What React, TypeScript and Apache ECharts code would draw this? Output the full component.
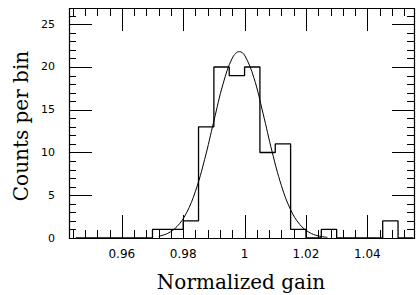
import React, { useEffect, useRef } from "react";
import * as echarts from "echarts";

// Histogram bins (lower edges) and counts
const binLowerEdges = [
  0.945, 0.95, 0.955, 0.96, 0.965, 0.97, 0.975, 0.98, 0.985, 0.99, 0.995,
  1.0, 1.005, 1.01, 1.015, 1.02, 1.025, 1.03, 1.035, 1.04, 1.045, 1.05,
];
const binCounts = [
  0, 0, 0, 0, 0, 1, 1, 2, 13, 20, 19, 20, 10, 11, 1, 0, 1, 0, 0, 0, 2, 0,
];
const binWidth = 0.005;

// Fitted curve, points
const fitX = [
  0.972, 0.975, 0.978, 0.981, 0.984, 0.987, 0.99, 0.993, 0.996, 0.9983, 1.0,
  1.003, 1.006, 1.009, 1.012, 1.015, 1.018, 1.021, 1.024, 1.027,
];
const fitY = [
  0.2, 0.55, 1.34, 2.88, 5.47, 9.2, 13.68, 18.03, 21.03, 21.8, 21.38, 18.78,
  14.6, 10.05, 6.13, 3.31, 1.58, 0.67, 0.25, 0.08,
];

// Tick labels
const xTickLabels = [0.96, 0.98, 1, 1.02, 1.04];
const yTickLabels = [0, 5, 10, 15, 20, 25];
const xTitle = "Normalized gain";
const yTitle = "Counts per bin";

const X_MIN = 0.9428;
const X_MAX = 1.0552;
const Y_MIN = 0;
const Y_MAX = 26.9;
const X_MINOR_STEP = 0.004;
const Y_MINOR_STEP = 1;

function minorValues(min: number, max: number, step: number): number[] {
  const out: number[] = [];
  const start = Math.ceil(min / step - 1e-9);
  const end = Math.floor(max / step + 1e-9);
  for (let k = start; k <= end; k++) out.push(+(k * step).toFixed(6));
  return out;
}

export default function App() {
  const ref = useRef<HTMLDivElement>(null);

  useEffect(() => {
    if (!ref.current) return;
    const chart = echarts.init(ref.current, null, { renderer: "svg" });

    const histData: [number, number][] = binLowerEdges.map((e, i) => [
      e,
      binCounts[i],
    ]);
    histData.push([
      binLowerEdges[binLowerEdges.length - 1] + binWidth,
      binCounts[binCounts.length - 1],
    ]);
    const fitData = fitX.map((x, i) => [x, fitY[i]]);

    const xMinor = minorValues(X_MIN, X_MAX, X_MINOR_STEP);
    const yMinor = minorValues(Y_MIN, Y_MAX, Y_MINOR_STEP);

    // tick items: [x, y, side(0 bottom,1 top,2 left,3 right,4 frame), length]
    const tickItems: number[][] = [[X_MIN, Y_MAX, 4, 0]];
    xTickLabels.forEach((v) => {
      tickItems.push([v, Y_MIN, 0, 23]);
      tickItems.push([v, Y_MAX, 1, 23]);
    });
    xMinor.forEach((v) => {
      tickItems.push([v, Y_MIN, 0, 8]);
      tickItems.push([v, Y_MAX, 1, 8]);
    });
    yTickLabels.forEach((v) => {
      tickItems.push([X_MIN, v, 2, 23]);
      tickItems.push([X_MAX, v, 3, 22]);
    });
    yMinor.forEach((v) => {
      tickItems.push([X_MIN, v, 2, 7]);
      tickItems.push([X_MAX, v, 3, 7]);
    });

    chart.setOption({
      animation: false,
      grid: { left: 69, top: 8, width: 345, height: 230, show: false },
      graphic: [
        {
          type: "text",
          x: 241,
          y: 282,
          style: {
            text: xTitle,
            fontFamily: "DejaVu Serif",
            fontSize: 20,
            fill: "#000",
            align: "center",
            verticalAlign: "middle",
          },
        },
        {
          type: "text",
          x: 21,
          y: 126,
          rotation: Math.PI / 2,
          style: {
            text: yTitle,
            fontFamily: "DejaVu Serif",
            fontSize: 20,
            fill: "#000",
            align: "center",
            verticalAlign: "middle",
          },
        },
      ],
      xAxis: {
        type: "value",
        min: X_MIN,
        max: X_MAX,
        axisLine: { show: false, onZero: false },
        splitLine: { show: false },
        axisTick: { show: false },
        axisLabel: {
          margin: 10,
          fontFamily: "DejaVu Sans",
          fontSize: 12,
          color: "#000",
          customValues: xTickLabels,
          formatter: (v: number) => String(+v.toFixed(2)),
        },
      },
      yAxis: {
        type: "value",
        min: Y_MIN,
        max: Y_MAX,
        axisLine: { show: false, onZero: false },
        splitLine: { show: false },
        axisTick: { show: false },
        axisLabel: {
          margin: 14,
          fontFamily: "DejaVu Sans",
          fontSize: 11,
          color: "#000",
          customValues: yTickLabels,
        },
      },
      series: [
        {
          type: "line",
          data: histData,
          step: "end",
          symbol: "none",
          clip: false,
          lineStyle: { color: "#000", width: 1.3 },
          z: 3,
        },
        {
          type: "line",
          data: fitData,
          smooth: 0.4,
          symbol: "none",
          clip: false,
          lineStyle: { color: "#000", width: 1 },
          z: 4,
        },
        {
          type: "custom",
          data: tickItems,
          z: 10,
          renderItem: (params: any, api: any) => {
            const side = api.value(2);
            const len = api.value(3);
            if (side === 4) {
              const a = api.coord([X_MIN, Y_MAX]);
              const b = api.coord([X_MAX, Y_MIN]);
              return {
                type: "rect",
                shape: {
                  x: Math.round(a[0]) + 0.5,
                  y: Math.round(a[1]) + 0.5,
                  width: Math.round(b[0] - a[0]),
                  height: Math.round(b[1] - a[1]),
                },
                style: { fill: "none", stroke: "#000", lineWidth: 1.2 },
              };
            }
            const p = api.coord([api.value(0), api.value(1)]);
            let x1 = p[0];
            let y1 = p[1];
            let x2 = p[0];
            let y2 = p[1];
            if (side === 0) {
              x1 = x2 = Math.round(x1) + 0.5;
              y2 = y1 - len;
            } else if (side === 1) {
              x1 = x2 = Math.round(x1) + 0.5;
              y2 = y1 + len;
            } else if (side === 2) {
              y1 = y2 = Math.round(y1) + 0.5;
              x2 = x1 + len;
            } else {
              y1 = y2 = Math.round(y1) + 0.5;
              x2 = x1 - len;
            }
            return {
              type: "line",
              shape: { x1, y1, x2, y2 },
              style: { stroke: "#000", lineWidth: 1 },
            };
          },
        },
      ],
    });

    return () => chart.dispose();
  }, []);

  return (
    <div
      ref={ref}
      style={{
        position: "absolute",
        left: 0,
        top: 0,
        width: 419,
        height: 295,
        background: "#fff",
      }}
    />
  );
}
